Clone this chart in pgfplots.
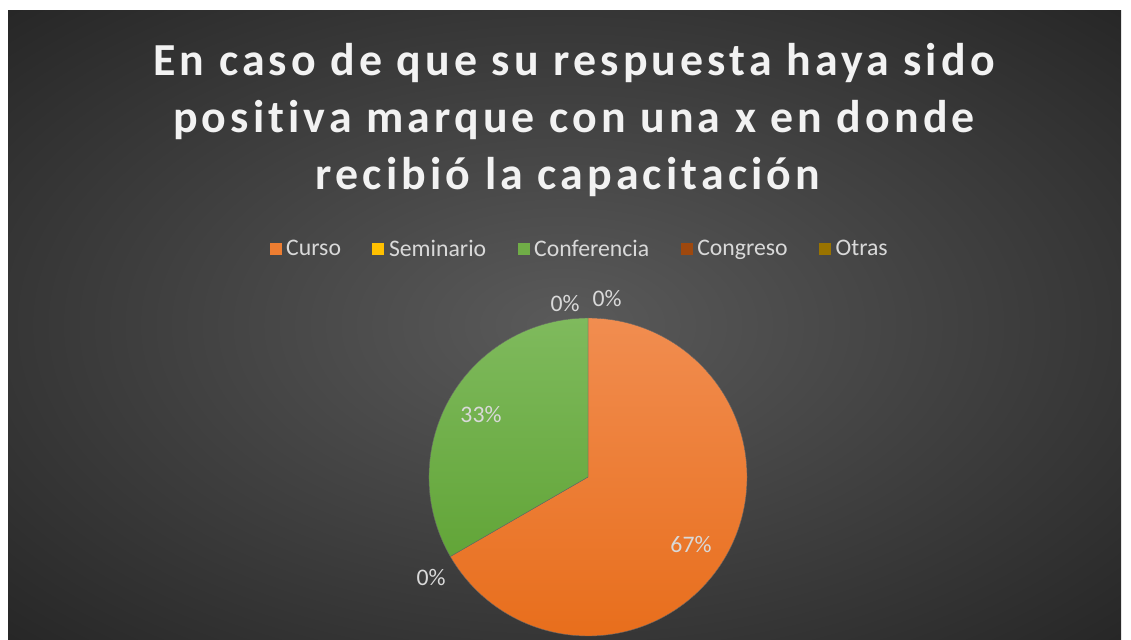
\documentclass[border=0pt]{standalone}
\usepackage{fontspec}
\setmainfont[Ligatures=NoCommon]{Carlito}
\newfontfamily\titlefont[LetterSpace=9,Ligatures=NoCommon]{Carlito}
\usepackage{pgfplots}
\pgfplotsset{compat=1.18}
\usepackage{pgfplotstable}

\definecolor{bgin}{HTML}{5A5A5A}
\definecolor{bgout}{HTML}{262626}
\definecolor{titlec}{HTML}{F2F2F2}
\definecolor{labelc}{HTML}{D9D9D9}
\definecolor{cursoC}{HTML}{ED7D31}
\definecolor{cursoTop}{HTML}{F18D50}
\definecolor{cursoBot}{HTML}{E86E1C}
\definecolor{semC}{HTML}{FFC000}
\definecolor{confC}{HTML}{70AD47}
\definecolor{confTop}{HTML}{7FBA5D}
\definecolor{confBot}{HTML}{62A538}
\definecolor{congC}{HTML}{9E480E}
\definecolor{otrasC}{HTML}{997300}

\pgfdeclareradialshading{bgshade}{\pgfpoint{0bp}{0bp}}{color(0bp)=(bgin); color(36bp)=(bgout); color(50bp)=(bgout)}

% respuestas por lugar de capacitacion
\pgfplotstableread{
cat          val
Curso        2
Seminario    0
Conferencia  1
Congreso     0
Otras        0
}\datos

\pgfplotstablegetelem{0}{val}\of\datos \let\vA\pgfplotsretval
\pgfplotstablegetelem{1}{val}\of\datos \let\vB\pgfplotsretval
\pgfplotstablegetelem{2}{val}\of\datos \let\vC\pgfplotsretval
\pgfplotstablegetelem{3}{val}\of\datos \let\vD\pgfplotsretval
\pgfplotstablegetelem{4}{val}\of\datos \let\vE\pgfplotsretval
\pgfmathsetmacro\tot{\vA+\vB+\vC+\vD+\vE}
\pgfmathsetmacro\aA{90}
\pgfmathsetmacro\aB{\aA-360*\vA/\tot}
\pgfmathsetmacro\aC{\aB-360*\vB/\tot}
\pgfmathsetmacro\aD{\aC-360*\vC/\tot}
\def\R{119.25pt}

\begin{document}
\begin{tikzpicture}
\begin{axis}[
  width=848.25pt, height=479.25pt, scale only axis,
  xmin=0, xmax=1131, ymin=0, ymax=639,
  hide axis, clip=false,
  legend image code/.code={\fill[#1, draw=none] (0pt,-4.5pt) rectangle (9pt,4.5pt);},
  legend style={at={(axis cs:580,390)}, anchor=center, draw=none, fill=none,
    legend columns=-1, font=\fontsize{17.8pt}{20pt}\selectfont, text=labelc,
    /tikz/every odd column/.append style={column sep=1.5pt},
    /tikz/every even column/.append style={column sep=21.5pt}},
]
\fill[white] (axis cs:0,0) rectangle (axis cs:1131,639);
\shade[shading=bgshade] (axis cs:8,0) rectangle (axis cs:1121,628);

\addlegendimage{fill=cursoC}\addlegendentry{Curso}
\addlegendimage{fill=semC}\addlegendentry{Seminario}
\addlegendimage{fill=confC}\addlegendentry{Conferencia}
\addlegendimage{fill=congC}\addlegendentry{Congreso}
\addlegendimage{fill=otrasC}\addlegendentry{Otras}

\shade[top color=cursoTop, bottom color=cursoBot, draw=black!60, line width=0.3pt]
  (axis cs:588,162) -- ++(\aA:\R) arc[start angle=\aA, end angle=\aB, radius=\R] -- cycle;
\shade[top color=confTop, bottom color=confBot, draw=black!60, line width=0.3pt]
  (axis cs:588,162) -- ++(\aC:\R) arc[start angle=\aC, end angle=\aD, radius=\R] -- cycle;

\begin{scope}[every node/.style={text=labelc, font=\fontsize{17.8pt}{20pt}\selectfont}]
\node at (axis cs:691,94) {67\%};
\node at (axis cs:481,224) {33\%};
\node at (axis cs:431,61) {0\%};
\node at (axis cs:565,335) {0\%};
\node at (axis cs:607,340) {0\%};
\end{scope}

\begin{scope}[every node/.style={anchor=base, text=titlec, font=\titlefont\bfseries\fontsize{34.4pt}{42pt}\selectfont}]
\node at (axis cs:574,563) {En caso de que su respuesta haya sido};
\node at (axis cs:574,506) {positiva marque con una x en donde};
\node at (axis cs:568,449) {recibió la capacitación};
\end{scope}
\end{axis}
\pgfresetboundingbox
\path[use as bounding box] (current axis.south west) rectangle (current axis.north east);
\end{tikzpicture}
\end{document}
